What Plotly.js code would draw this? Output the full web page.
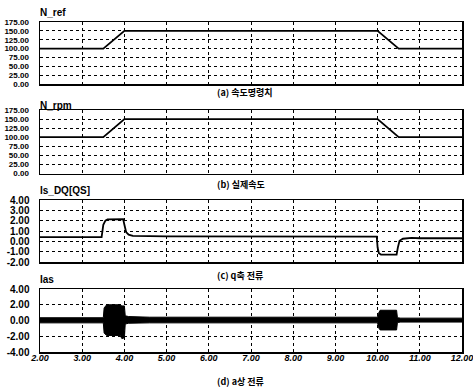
<!DOCTYPE html>
<html>
<head>
<meta charset="utf-8">
<script src="https://cdn.plot.ly/plotly-3.0.1.min.js"></script>
<style>html,body{margin:0;padding:0;background:#fff;}#chart{width:473px;height:390px;}</style>
</head>
<body>
<div id="chart"></div>
<script>
// Speed reference and actual speed (rpm)
const tSpeed = [2, 3.5, 4.0, 10.0, 10.5, 12];
const nRef   = [100, 100, 150, 150, 100, 100];
const nRpm   = [100, 100, 150, 150, 100, 100];

// q-axis current
const tIq = [2, 3.46, 3.50, 3.55, 3.60, 3.97, 4.00, 4.04, 4.10, 4.20, 5.0, 9.98, 10.00, 10.03, 10.08, 10.45, 10.48, 10.52, 10.60, 10.80, 11.0, 12];
const iq  = [0.4, 0.4, 1.6, 2.0, 2.12, 2.15, 1.6, 0.9, 0.65, 0.52, 0.48, 0.45, -0.6, -1.15, -1.28, -1.28, -0.6, 0.05, 0.25, 0.33, 0.3, 0.3];

// a-phase current envelope (dense AC waveform drawn as a band)
const tIas  = [2, 3.50, 3.52, 3.58, 3.90, 3.94, 4.00, 4.02, 4.10, 4.60, 10.0, 10.02, 10.06, 10.45, 10.47, 10.55, 12];
const iasHi = [0.35, 0.35, 1.6, 2.0, 2.0, 1.85, 1.85, 0.6, 0.5, 0.42, 0.42, 0.9, 1.3, 1.3, 0.35, 0.3, 0.3];
const iasLo = [-0.3, -0.3, -1.6, -1.9, -1.9, -2.3, -2.2, -0.45, -0.35, -0.3, -0.3, -0.9, -1.2, -1.2, -0.25, -0.2, -0.2];

const xTicks = [2,3,4,5,6,7,8,9,10,11,12];
const titles = ['N_ref', 'N_rpm', 'Is_DQ[QS]', 'Ias'];
const captions = ['(a) 속도명령치', '(b) 실제속도', '(c) q축 전류', '(d) a상 전류'];

const H = 390, L = 40, R = 11, W = 473 - L - R;
const py = p => 1 - p / H;
const px = p => (p - L) / W;

const lineStyle = {color: '#000', width: 1.8};
const traces = [
  {x: tSpeed, y: nRef, xaxis: 'x', yaxis: 'y', mode: 'lines', line: lineStyle, showlegend: false},
  {x: tSpeed, y: nRpm, xaxis: 'x2', yaxis: 'y2', mode: 'lines', line: lineStyle, showlegend: false},
  {x: tIq, y: iq, xaxis: 'x3', yaxis: 'y3', mode: 'lines', line: lineStyle, showlegend: false},
  {x: tIas, y: iasLo, xaxis: 'x4', yaxis: 'y4', mode: 'lines', line: {color: '#000', width: 1}, showlegend: false},
  {x: tIas, y: iasHi, xaxis: 'x4', yaxis: 'y4', mode: 'lines', fill: 'tonexty', fillcolor: '#000', line: {color: '#000', width: 1}, showlegend: false}
];

const smallFont = {family: 'Liberation Sans, Arial, sans-serif', size: 8, color: '#000', weight: 'bold'};
const boldFont = {family: 'Liberation Sans, Arial, sans-serif', size: 10, color: '#000', weight: 'bold'};

function xAx(anchor, showLabels) {
  return {
    anchor: anchor, domain: [0, 1], range: [2, 12], tickvals: xTicks,
    ticktext: xTicks.map(v => v.toFixed(2)),
    showticklabels: showLabels, ticks: '', showgrid: true, griddash: 'dot',
    gridcolor: '#000', gridwidth: 1, zeroline: false,
    showline: true, mirror: true, linecolor: '#000', linewidth: 1.5,
    tickfont: {family: 'Liberation Sans, Arial, sans-serif', size: 9, color: '#000', weight: 'bold', style: 'italic'},
    ticklabelstandoff: -3, ticklabeloverflow: 'allow'
  };
}
function yAx(anchor, dom, range, vals, font, standoff) {
  return {
    anchor: anchor, domain: dom, range: range, tickvals: vals,
    ticktext: vals.map(v => v.toFixed(2)),
    ticks: '', showgrid: true, griddash: 'dot', gridcolor: '#000', gridwidth: 1,
    zeroline: false, showline: true, mirror: true, linecolor: '#000', linewidth: 1.5,
    tickfont: font, ticklabelstandoff: standoff, ticklabeloverflow: 'allow'
  };
}

const d1 = [py(84), py(22)], d2 = [py(173.5), py(110)], d3 = [py(262), py(200)], d4 = [py(352), py(289)];
const speedVals = [0,25,50,75,100,125,150,175];
const iqVals = [-2,-1,0,1,2,3,4];
const iasVals = [-4,-2,0,2,4];

const titleY = [12, 106, 190, 279];
const capY = [92, 184, 275, 381];
const annotations = [];
titles.forEach((t, i) => annotations.push({
  text: t, xref: 'paper', yref: 'paper', x: px(38), y: py(titleY[i]),
  xanchor: 'left', yanchor: 'middle', showarrow: false,
  font: {family: 'Liberation Sans, Arial, sans-serif', size: 10, color: '#000', weight: 'bold'}
}));
captions.forEach((t, i) => annotations.push({
  text: t, xref: 'paper', yref: 'paper', x: px(215), y: py(capY[i]),
  xanchor: 'left', yanchor: 'middle', showarrow: false,
  font: {family: 'Noto Sans CJK KR, sans-serif', size: 9, color: '#000', weight: 'bold'}
}));

const layout = {
  width: 473, height: 390,
  margin: {l: L, r: R, t: 0, b: 0},
  paper_bgcolor: '#fff', plot_bgcolor: '#fff',
  showlegend: false,
  xaxis: xAx('y', false), xaxis2: xAx('y2', false), xaxis3: xAx('y3', false), xaxis4: xAx('y4', true),
  yaxis: yAx('x', d1, [0, 175], speedVals, smallFont, 8),
  yaxis2: yAx('x2', d2, [0, 175], speedVals, smallFont, 8),
  yaxis3: yAx('x3', d3, [-2, 4], iqVals, boldFont, 7),
  yaxis4: yAx('x4', d4, [-4, 4], iasVals, boldFont, 7),
  annotations: annotations
};

Plotly.newPlot('chart', traces, layout, {staticPlot: true, displayModeBar: false});
</script>
</body>
</html>
